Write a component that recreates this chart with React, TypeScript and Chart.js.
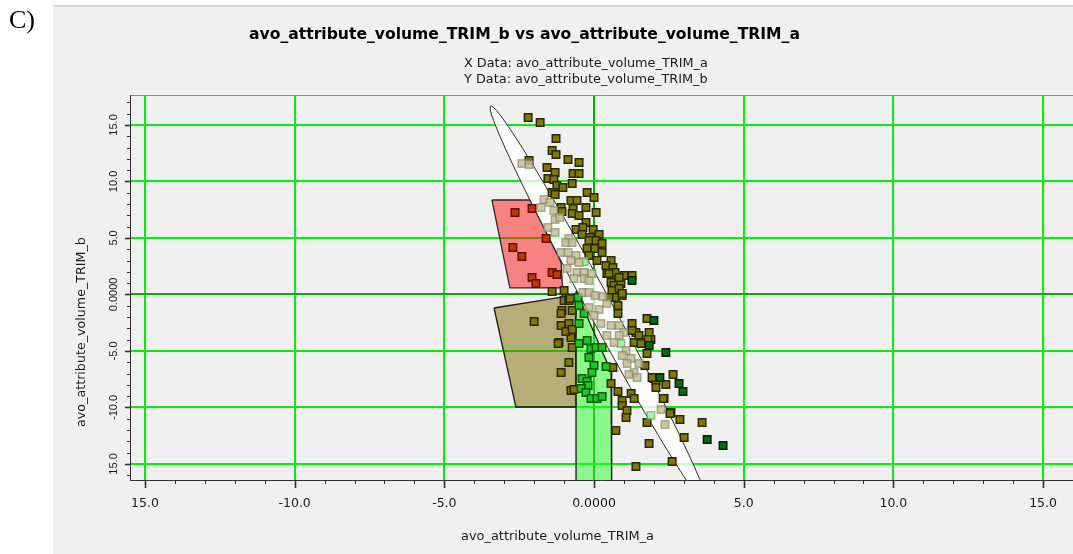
import { useEffect, useRef } from 'react';
import { Chart, registerables } from 'chart.js';

Chart.register(...registerables);

// ---- text ----
const panelLabel = 'C)';
const chartTitle = 'avo_attribute_volume_TRIM_b vs avo_attribute_volume_TRIM_a';
const xDataLine = 'X Data: avo_attribute_volume_TRIM_a';
const yDataLine = 'Y Data: avo_attribute_volume_TRIM_b';
const xAxisTitle = 'avo_attribute_volume_TRIM_a';
const yAxisTitle = 'avo_attribute_volume_TRIM_b';

// ---- axes ----
const majorTicks = [-15, -10, -5, 0, 5, 10, 15];
const xTickLabels = ['15.0', '-10.0', '-5.0', '0.0000', '5.0', '10.0', '15.0'];
const yTickLabels = ['15.0', '-10.0', '-5.0', '0.0000', '5.0', '10.0', '15.0'];
const xRange = [-15.5, 16.0];
const yRange = [-16.42, 17.65];

// ---- samples, [x, y] ----
const olivePoints: [number, number][] = [
  [-2.20, 15.66], [-1.80, 15.22], [-1.27, 13.81], [-1.40, 12.74], [-1.27, 12.39], [-0.87, 11.95],
  [-0.50, 11.68], [-1.57, 11.24], [-1.30, 10.80], [-0.70, 10.71], [-0.50, 10.71], [-1.54, 10.27],
  [-1.34, 10.18], [-0.73, 9.82], [-1.24, 9.65], [-1.04, 9.47], [-1.40, 9.03], [-1.30, 8.85],
  [-0.23, 9.03], [0.00, 8.58], [-0.77, 8.32], [-0.57, 8.32], [-1.10, 7.70], [-0.70, 7.61],
  [-0.27, 7.70], [0.07, 7.26], [-1.07, 7.35], [-0.73, 7.17], [-0.50, 6.99], [-0.27, 6.37],
  [-0.60, 5.75], [-0.37, 5.93], [-0.03, 5.75], [0.17, 5.31], [-0.40, 5.31], [-0.13, 5.04],
  [-2.17, 11.86], [-0.17, 4.78], [0.07, 4.78], [-0.23, 4.07], [0.03, 4.07], [0.27, 4.51],
  [0.27, 3.72], [-0.17, 3.45], [0.10, 3.01], [0.57, 3.01], [0.40, 2.57], [0.63, 2.39],
  [0.43, 1.86], [0.73, 1.50], [1.00, 1.68], [1.27, 1.68], [0.57, 1.06], [0.67, 0.80],
  [0.90, 0.97], [0.60, 0.35], [0.84, 0.53], [0.73, -0.27], [0.94, -0.09], [0.50, -0.27],
  [0.80, -0.97], [0.80, -1.68], [1.27, -2.57], [1.77, -2.12], [1.40, -3.36], [1.27, -3.19],
  [1.50, -3.63], [1.84, -3.36], [1.60, -4.25], [1.90, -3.98], [1.34, -4.25], [-1.40, 0.27],
  [-0.94, -0.35], [-1.07, -1.42], [-0.73, -1.42], [-1.10, -2.74], [-0.84, -2.57], [-1.17, -4.25],
  [-0.77, -3.81], [-1.00, 0.35], [-1.00, -0.53], [-0.84, -0.53], [-2.00, -2.39], [-1.10, -1.68],
  [-0.94, -3.27], [-0.73, -3.10], [-1.20, -4.34], [-0.73, -4.69], [-0.84, -6.02], [-1.10, -6.90],
  [-0.77, -8.50], [-0.67, -8.41], [-0.80, -0.35], [0.57, -7.88], [0.80, -8.58], [0.94, -9.38],
  [0.94, -9.82], [1.10, -10.27], [1.07, -10.89], [0.73, -12.04], [0.63, -6.46], [1.24, -8.76],
  [1.34, -9.20], [1.77, -5.22], [1.80, -3.98], [1.57, -4.34], [2.00, -7.43], [2.40, -7.97],
  [2.34, -9.20], [2.64, -7.08], [2.57, -10.44], [2.87, -11.06], [1.77, -11.33], [3.01, -12.66],
  [2.07, -7.61], [1.84, -13.19], [1.40, -15.22], [2.61, -14.78], [3.61, -11.33], [2.07, -8.23],
  [2.31, -9.20], [2.54, -10.53], [0.70, 1.95], [0.84, 1.50], [0.50, 1.86], [0.94, 0.09],
  [1.70, -6.28], [1.94, -7.35],
];

const darkGreenPoints: [number, number][] = [
  [1.27, 1.24], [2.00, -2.30], [1.84, -4.51], [2.40, -5.13], [2.20, -7.35],
  [2.84, -7.88], [2.97, -8.58], [3.78, -12.83], [4.31, -13.36],
];

const redPoints: [number, number][] = [
  [-2.64, 7.26], [-2.07, 7.61], [-2.71, 4.16], [-2.41, 3.36], [-2.07, 1.50],
  [-1.94, 0.97], [-1.40, 1.95], [-1.24, 1.77], [-1.60, 4.96],
];

const greenPoints: [number, number][] = [
  [-0.50, -0.97], [-0.33, -1.68], [-0.50, -2.57], [-0.50, -4.34], [-0.23, -4.07], [-0.10, -4.78],
  [0.07, -4.69], [-0.17, -5.58], [0.00, -6.28], [0.40, -6.37], [0.27, -4.69], [-0.07, -6.90],
  [-0.40, -7.43], [-0.23, -7.70], [-0.20, -8.05], [-0.43, -8.32], [-0.27, -8.67], [-0.10, -9.20],
  [0.10, -9.20], [0.27, -9.03], [-0.53, -0.27],
];

const fadedGreenPoints: [number, number][] = [
  [-0.33, 2.92], [0.90, -4.34], [1.90, -10.71],
];

const fadedPoints: [number, number][] = [
  [-2.41, 11.59], [-2.17, 11.50], [-1.67, 8.41], [-1.47, 8.14], [-1.77, 7.70], [-1.34, 7.43],
  [-1.30, 6.64], [-1.14, 6.81], [-1.54, 5.93], [-1.30, 5.49], [-0.84, 4.96], [-0.94, 4.60],
  [-0.73, 4.60], [-1.10, 3.72], [-0.87, 3.72], [-0.60, 3.45], [-0.77, 3.01], [-0.50, 2.83],
  [-0.90, 2.30], [-0.57, 1.95], [-0.33, 1.95], [-0.67, 1.42], [-0.33, 1.42], [-0.17, 1.24],
  [-0.07, 1.86], [-0.37, 0.18], [-0.17, 0.18], [0.03, -0.09], [-0.17, -1.15], [0.17, -1.33],
  [0.00, -1.86], [0.23, -2.57], [0.57, -2.74], [0.43, -3.63], [0.84, -2.74], [1.00, -3.36],
  [0.84, -3.63], [0.67, -4.25], [1.07, -4.96], [0.94, -5.40], [1.24, -5.66], [1.10, -6.11],
  [1.50, -6.11], [1.34, -6.90], [1.17, -7.08], [1.44, -7.35], [2.24, -10.18], [2.37, -11.50],
  [0.30, -0.18], [0.43, -0.80],
];

// ---- polygon zones, [x, y] vertices ----
const redZone: [number, number][] = [
  [-3.41, 8.36], [-2.14, 8.36], [-1.10, 2.83], [-1.05, 0.58], [-2.81, 0.58],
];
const oliveZone: [number, number][] = [
  [-3.34, -1.20], [-0.62, -0.04], [-0.60, -9.96], [-2.61, -9.96],
];
const greenZone: [number, number][] = [
  [-0.60, 0.31], [0.57, -6.86], [0.59, -18.0], [-0.60, -18.0],
];

// ---- trend ellipse: centre, tip of the long axis, half width along x ----
const ellipseCenter: [number, number] = [0.17, -1.02];
const ellipseTip: [number, number] = [-3.44, 16.68];
const ellipseHalfWidthX = 0.468;

const FONT = "'DejaVu Sans', 'Liberation Sans', sans-serif";

const toXY = (pts: [number, number][]) => pts.map(([x, y]) => ({ x, y }));
const closed = (pts: [number, number][]) => toXY([...pts, pts[0]]);

function ellipseOutline() {
  const [cx, cy] = ellipseCenter;
  const ux = ellipseTip[0] - cx;
  const uy = ellipseTip[1] - cy;
  const out: { x: number; y: number }[] = [];
  const n = 180;
  for (let i = 0; i <= n; i++) {
    const t = (i / n) * Math.PI * 2;
    out.push({ x: cx + ux * Math.cos(t) + ellipseHalfWidthX * Math.sin(t), y: cy + uy * Math.cos(t) });
  }
  return out;
}

function fitFont(ctx: CanvasRenderingContext2D, text: string, weight: string, width: number) {
  ctx.font = `${weight} 100px ${FONT}`;
  const w = ctx.measureText(text).width;
  return `${weight} ${((100 * width) / w).toFixed(2)}px ${FONT}`;
}

function text(
  ctx: CanvasRenderingContext2D,
  s: string,
  x: number,
  y: number,
  font: string,
  align: CanvasTextAlign,
  rotate = 0,
  color = '#1a1a1a',
) {
  ctx.save();
  ctx.translate(x, y);
  if (rotate) ctx.rotate(rotate);
  ctx.font = font;
  ctx.fillStyle = color;
  ctx.textAlign = align;
  ctx.textBaseline = 'alphabetic';
  ctx.fillText(s, 0, 0);
  ctx.restore();
}

const frame = {
  id: 'frame',
  beforeDraw(chart: any) {
    const { ctx, width, height } = chart;
    ctx.save();
    ctx.fillStyle = '#ffffff';
    ctx.fillRect(0, 0, width, height);
    ctx.fillStyle = '#f0f0f0';
    ctx.fillRect(53, 5, width - 53, height - 5);
    ctx.fillStyle = '#d6d6d6';
    ctx.fillRect(53, 5, width - 53, 1.5);
    ctx.restore();
  },
  afterDraw(chart: any) {
    const { ctx, chartArea: a } = chart;
    const xs = chart.scales.x;
    const ys = chart.scales.y;
    ctx.save();

    // plot border and axis lines
    ctx.lineWidth = 1;
    ctx.strokeStyle = '#8c8c8c';
    ctx.beginPath();
    ctx.moveTo(a.left, a.top + 0.5);
    ctx.lineTo(a.right, a.top + 0.5);
    ctx.stroke();
    ctx.strokeStyle = '#303030';
    ctx.beginPath();
    ctx.moveTo(a.left + 0.5, a.top);
    ctx.lineTo(a.left + 0.5, a.bottom + 1);
    ctx.moveTo(a.left, a.bottom + 0.5);
    ctx.lineTo(a.right, a.bottom + 0.5);
    ctx.stroke();

    // tick marks: majors every 5, minors every 1
    for (let v = Math.ceil(xs.min); v <= Math.floor(xs.max); v++) {
      const major = v % 5 === 0;
      const px = Math.round(xs.getPixelForValue(v)) + 0.5;
      ctx.lineWidth = major ? 1.6 : 1;
      ctx.beginPath();
      ctx.moveTo(px, a.bottom);
      ctx.lineTo(px, a.bottom + (major ? 8 : 4));
      ctx.stroke();
    }
    for (let v = Math.ceil(ys.min); v <= Math.floor(ys.max); v++) {
      const major = v % 5 === 0;
      const py = Math.round(ys.getPixelForValue(v)) + 0.5;
      ctx.lineWidth = major ? 1.6 : 1;
      ctx.beginPath();
      ctx.moveTo(a.left, py);
      ctx.lineTo(a.left - (major ? 5 : 3), py);
      ctx.stroke();
    }

    // tick labels
    majorTicks.forEach((v, i) => {
      text(ctx, xTickLabels[i], xs.getPixelForValue(v), 507, `12.5px ${FONT}`, 'center');
      text(ctx, yTickLabels[i], 117, ys.getPixelForValue(v), `11px 'Liberation Sans', sans-serif`, 'center', -Math.PI / 2);
    });

    // titles
    text(ctx, chartTitle, 249, 39, fitFont(ctx, chartTitle, 'bold', 551), 'left', 0, '#000000');
    text(ctx, xDataLine, 464, 67, fitFont(ctx, xDataLine, 'normal', 244), 'left');
    text(ctx, yDataLine, 464, 83, fitFont(ctx, yDataLine, 'normal', 244), 'left');
    text(ctx, xAxisTitle, 557.5, 539.5, fitFont(ctx, xAxisTitle, 'normal', 193), 'center');
    text(ctx, yAxisTitle, 85, 332, fitFont(ctx, yAxisTitle, 'normal', 190), 'center', -Math.PI / 2);

    ctx.restore();
  },
};

const gridColor = (c: any) => (c.tick && c.tick.value === 0 ? '#00ac00' : '#00f000');

function squares(data: [number, number][], fill: string, stroke: string, order: number) {
  return {
    type: 'scatter' as const,
    data: toXY(data),
    pointStyle: 'rect' as const,
    pointRadius: 5.3,
    borderWidth: 1.5,
    backgroundColor: fill,
    borderColor: stroke,
    order,
  };
}

function zone(pts: { x: number; y: number }[], fill: string, stroke: string, order: number, width = 1.3) {
  return {
    type: 'line' as const,
    data: pts,
    fill: 'shape',
    backgroundColor: fill,
    borderColor: stroke,
    borderWidth: width,
    pointRadius: 0,
    tension: 0,
    clip: 0,
    order,
  };
}

export default function App() {
  const ref = useRef<HTMLCanvasElement>(null);

  useEffect(() => {
    if (!ref.current) return;
    const chart = new Chart(ref.current, {
      type: 'scatter',
      data: {
        datasets: [
          squares(fadedPoints, 'rgba(196,190,148,0.85)', 'rgba(128,126,100,0.6)', 0),
          squares(fadedGreenPoints, 'rgba(130,250,130,0.8)', 'rgba(110,150,110,0.6)', 0),
          squares(redPoints, '#c8320a', '#5a1400', 1),
          squares(greenPoints, '#22c422', '#0a5a0a', 1),
          squares(darkGreenPoints, '#066a10', '#021f04', 1),
          squares(olivePoints, '#7e7806', '#2a2800', 1),
          zone(ellipseOutline(), 'rgba(255,255,255,0.78)', '#2a2a2a', 2, 1),
          zone(closed(greenZone), 'rgba(40,255,40,0.5)', '#1a1a1a', 3),
          zone(closed(redZone), 'rgba(255,20,20,0.5)', '#2a2a2a', 3),
          zone(closed(oliveZone), 'rgba(122,108,0,0.5)', '#1a1a1a', 3),
        ] as any,
      },
      options: {
        responsive: false,
        maintainAspectRatio: false,
        animation: false,
        events: [],
        layout: { autoPadding: false, padding: { top: 95, left: 0, right: -7, bottom: 0 } },
        plugins: {
          legend: { display: false },
          tooltip: { enabled: false },
          title: { display: false },
        },
        scales: {
          x: {
            type: 'linear',
            min: xRange[0],
            max: xRange[1],
            afterBuildTicks: (s: any) => {
              s.ticks = majorTicks.map((value) => ({ value }));
            },
            afterFit: (s: any) => {
              s.height = 74;
            },
            ticks: { display: false },
            border: { display: false },
            grid: { color: gridColor, lineWidth: 2, drawTicks: false },
          },
          y: {
            type: 'linear',
            min: yRange[0],
            max: yRange[1],
            afterBuildTicks: (s: any) => {
              s.ticks = majorTicks.map((value) => ({ value }));
            },
            afterFit: (s: any) => {
              s.width = 130;
            },
            ticks: { display: false },
            border: { display: false },
            grid: { color: gridColor, lineWidth: 2, drawTicks: false },
          },
        },
      },
      plugins: [frame],
    });
    return () => chart.destroy();
  }, []);

  return (
    <div
      style={{
        position: 'absolute',
        left: 0,
        top: 0,
        width: 1073,
        height: 554,
        background: '#ffffff',
        overflow: 'hidden',
      }}
    >
      <canvas
        ref={ref}
        width={1073}
        height={554}
        style={{ position: 'absolute', left: 0, top: 0, width: 1073, height: 554 }}
      />
      <div
        style={{
          position: 'absolute',
          left: 9,
          top: 5,
          font: "26px 'Liberation Serif', 'Times New Roman', serif",
          lineHeight: '30px',
          color: '#000000',
        }}
      >
        {panelLabel}
      </div>
    </div>
  );
}
